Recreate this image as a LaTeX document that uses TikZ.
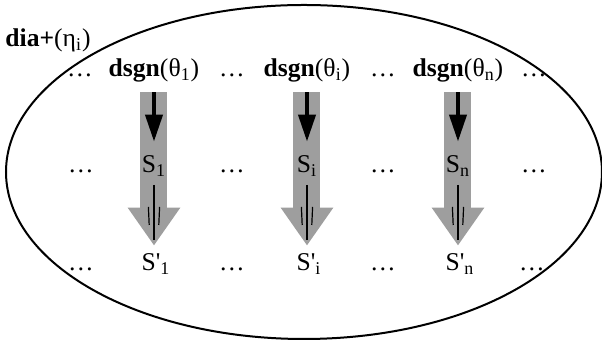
\documentclass[tikz,border=0pt]{standalone}
\usepackage{fontspec}
\setmainfont{Liberation Serif}
\usetikzlibrary{arrows.meta, backgrounds}

\begin{document}
\begin{tikzpicture}[
  x=0.5pt, y=-0.5pt,
  font=\fontsize{12.8}{15}\selectfont,
  txt/.style={inner sep=0pt, anchor=base},
  flow/.style={-{Triangle[width=25pt,length=19pt]}, line width=13.5pt,
               draw=black!38, shorten <=4.5pt, shorten >=4pt},
  push/.style={-{Triangle[width=8.5pt,length=13.5pt]}, line width=2pt,
               shorten <=4.5pt, shorten >=7pt},
  pull/.style={line width=1.3pt, shorten <=4pt, shorten >=7pt},
  tick/.style={line width=0.6pt},
]
\useasboundingbox (0,0) rectangle (602,340);

\draw[line width=1pt] (304,172) ellipse [x radius=298, y radius=167];

\node[txt, anchor=base west] (dia) at (5,47) {\textbf{dia+}(η\textsubscript{i})};

% top row
\node[txt] (r1a) at (80,77) {\dots};
\node[txt] (d1) at (154,77) {\textbf{dsgn}(θ\textsubscript{1})};
\node[txt] (r1b) at (232,77) {\dots};
\node[txt] (di) at (307,77) {\textbf{dsgn}(θ\textsubscript{i})};
\node[txt] (r1c) at (383,77) {\dots};
\node[txt] (dn) at (458,77) {\textbf{dsgn}(θ\textsubscript{n})};
\node[txt] (r1d) at (534,77) {\dots};

% middle row
\node[txt] (r2a) at (81,173) {\dots};
\node[txt] (s1) at (154,173) {S\textsubscript{1}};
\node[txt] (r2b) at (232,173) {\dots};
\node[txt] (si) at (307,173) {S\textsubscript{i}};
\node[txt] (r2c) at (383,173) {\dots};
\node[txt] (sn) at (458,173) {S\textsubscript{n}};
\node[txt] (r2d) at (534,173) {\dots};

% bottom row
\node[txt] (r3a) at (81,271) {\dots};
\node[txt] (sp1) at (156,271) {S\textquotesingle\textsubscript{1}};
\node[txt] (r3b) at (232,271) {\dots};
\node[txt] (spi) at (309,271) {S\textquotesingle\textsubscript{i}};
\node[txt] (r3c) at (383,271) {\dots};
\node[txt] (spn) at (460,271) {S\textquotesingle\textsubscript{n}};
\node[txt] (r3d) at (532,271) {\dots};

\begin{scope}[on background layer]
\draw[flow] (d1.south) -- (d1.south |- sp1.north);
\draw[flow] (di.south) -- (di.south |- spi.north);
\draw[flow] (dn.south) -- (dn.south |- spn.north);
\end{scope}

\draw[push] (d1.south) -- (s1.north);
\draw[push] (di.south) -- (si.north);
\draw[push] (dn.south) -- (sn.north);

\draw[pull] (s1.south) -- (s1.south |- sp1.north);
\draw[pull] (si.south) -- (si.south |- spi.north);
\draw[pull] (sn.south) -- (sn.south |- spn.north);

% small strokes inside the heads
\draw[tick] ([xshift=-2.8pt,yshift=-15pt]s1.south) -- ([xshift=-2.4pt,yshift=-24pt]s1.south);
\draw[tick] ([xshift=2.8pt,yshift=-15pt]s1.south) -- ([xshift=2.4pt,yshift=-24pt]s1.south);
\draw[tick] ([xshift=-2.8pt,yshift=-15pt]si.south) -- ([xshift=-2.4pt,yshift=-24pt]si.south);
\draw[tick] ([xshift=2.8pt,yshift=-15pt]si.south) -- ([xshift=2.4pt,yshift=-24pt]si.south);
\draw[tick] ([xshift=-2.8pt,yshift=-15pt]sn.south) -- ([xshift=-2.4pt,yshift=-24pt]sn.south);
\draw[tick] ([xshift=2.8pt,yshift=-15pt]sn.south) -- ([xshift=2.4pt,yshift=-24pt]sn.south);
\end{tikzpicture}
\end{document}
